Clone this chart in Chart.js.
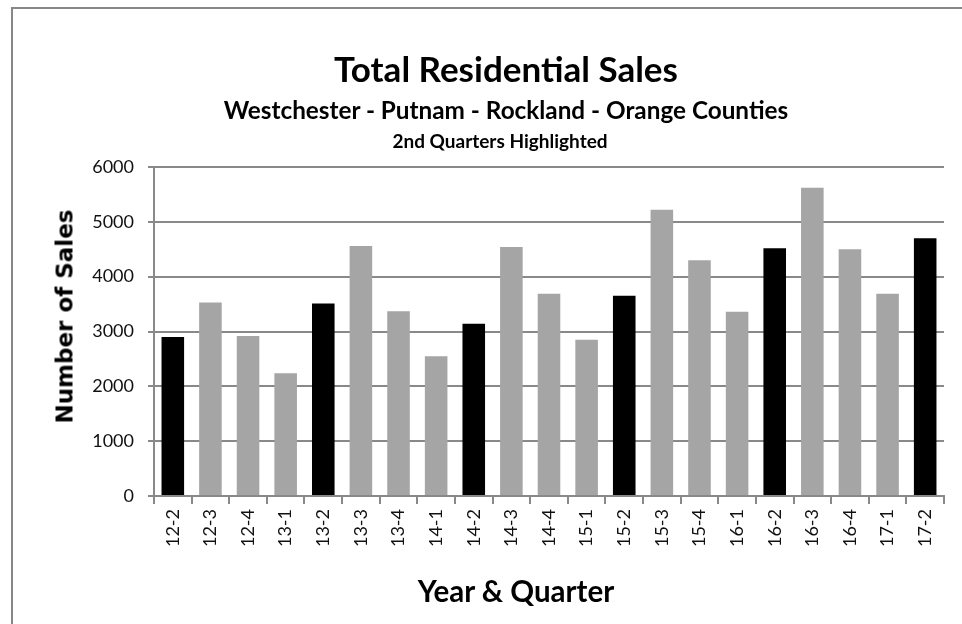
<!DOCTYPE html>
<html lang="en">

<head>
    <meta charset="UTF-8" />
    <title>Total Residential Sales</title>
    <script src="https://cdn.jsdelivr.net/npm/chart.js"></script>
    <style>
        body {
            margin: 0;
            width: 962px;
            height: 624px;
            overflow: hidden;
            position: relative;
            background: #fff;
            font-family: Lato, sans-serif;
        }

        .frame {
            position: absolute;
            left: 11px;
            top: 7px;
            width: 1000px;
            height: 700px;
            border: 2px solid #878787;
        }

        .head {
            position: absolute;
            width: 800px;
            text-align: center;
            font-weight: bold;
            line-height: 1;
            white-space: nowrap;
            color: #000;
        }

        #title { left: 106px; top: 50.7px; font-size: 35px; }
        #subtitle { left: 106px; top: 98px; font-size: 24.3px; }
        #note { left: 100px; top: 131px; font-size: 19px; }
        #xTitle { left: 116px; top: 576px; font-size: 29.5px; }

        #yTitle {
            left: -85.3px;
            top: 305px;
            width: 300px;
            font-family: "DejaVu Sans", sans-serif;
            font-size: 23px;
            transform: rotate(-90deg);
        }

        canvas {
            position: absolute;
            left: 0;
            top: 0;
        }
    </style>
</head>

<body>
    <div class="frame"></div>
    <canvas id="salesChart" width="962" height="624"></canvas>

    <div class="head" id="title">Total Residential Sales</div>
    <div class="head" id="subtitle">Westchester - Putnam - Rockland - Orange Counties</div>
    <div class="head" id="note">2nd Quarters Highlighted</div>
    <div class="head" id="xTitle">Year &amp; Quarter</div>
    <div class="head" id="yTitle">Number of Sales</div>

    <script>
        // year-quarter labels and number of sales
        const quarters = ['12-2', '12-3', '12-4', '13-1', '13-2', '13-3', '13-4', '14-1', '14-2', '14-3', '14-4',
            '15-1', '15-2', '15-3', '15-4', '16-1', '16-2', '16-3', '16-4', '17-1', '17-2'];
        const sales = [2900, 3530, 2920, 2240, 3510, 4560, 3370, 2550, 3140, 4540, 3690,
            2850, 3650, 5220, 4300, 3360, 4520, 5620, 4500, 3690, 4700];

        const yMin = 0;
        const yMax = 6000;
        const yStep = 1000;

        const gridColor = '#898989';
        const tickFont = { family: 'Lato', size: 18 };

        // 2nd quarters are drawn black, the rest grey
        function barColor(q) {
            return q.endsWith('-2') ? '#000000' : '#a5a5a5';
        }

        const ctx = document.getElementById('salesChart').getContext('2d');
        new Chart(ctx, {
            type: 'bar',
            data: {
                labels: quarters,
                datasets: [{
                    label: 'Number of Sales',
                    data: sales,
                    backgroundColor: quarters.map(barColor),
                    barPercentage: 0.6,
                    categoryPercentage: 1.0
                }]
            },
            options: {
                responsive: false,
                animation: false,
                layout: { padding: { top: 167, right: 18, bottom: 68, left: 0 } },
                plugins: {
                    legend: { display: false },
                    tooltip: { enabled: false }
                },
                scales: {
                    x: {
                        grid: { drawOnChartArea: false, tickLength: 8, color: gridColor, lineWidth: 2, offset: true },
                        border: { color: gridColor, width: 2 },
                        ticks: { autoSkip: false, minRotation: 90, maxRotation: 90, padding: 5, color: '#111', font: tickFont },
                        afterFit: s => { s.height = 60; }
                    },
                    y: {
                        min: yMin,
                        max: yMax,
                        ticks: {
                            stepSize: yStep,
                            padding: 14,
                            color: '#111',
                            font: tickFont,
                            callback: v => String(v)
                        },
                        grid: { color: gridColor, lineWidth: 2, tickLength: 6 },
                        border: { color: gridColor, width: 2 },
                        afterFit: s => { s.width = 154; }
                    }
                }
            }
        });
    </script>
</body>

</html>
